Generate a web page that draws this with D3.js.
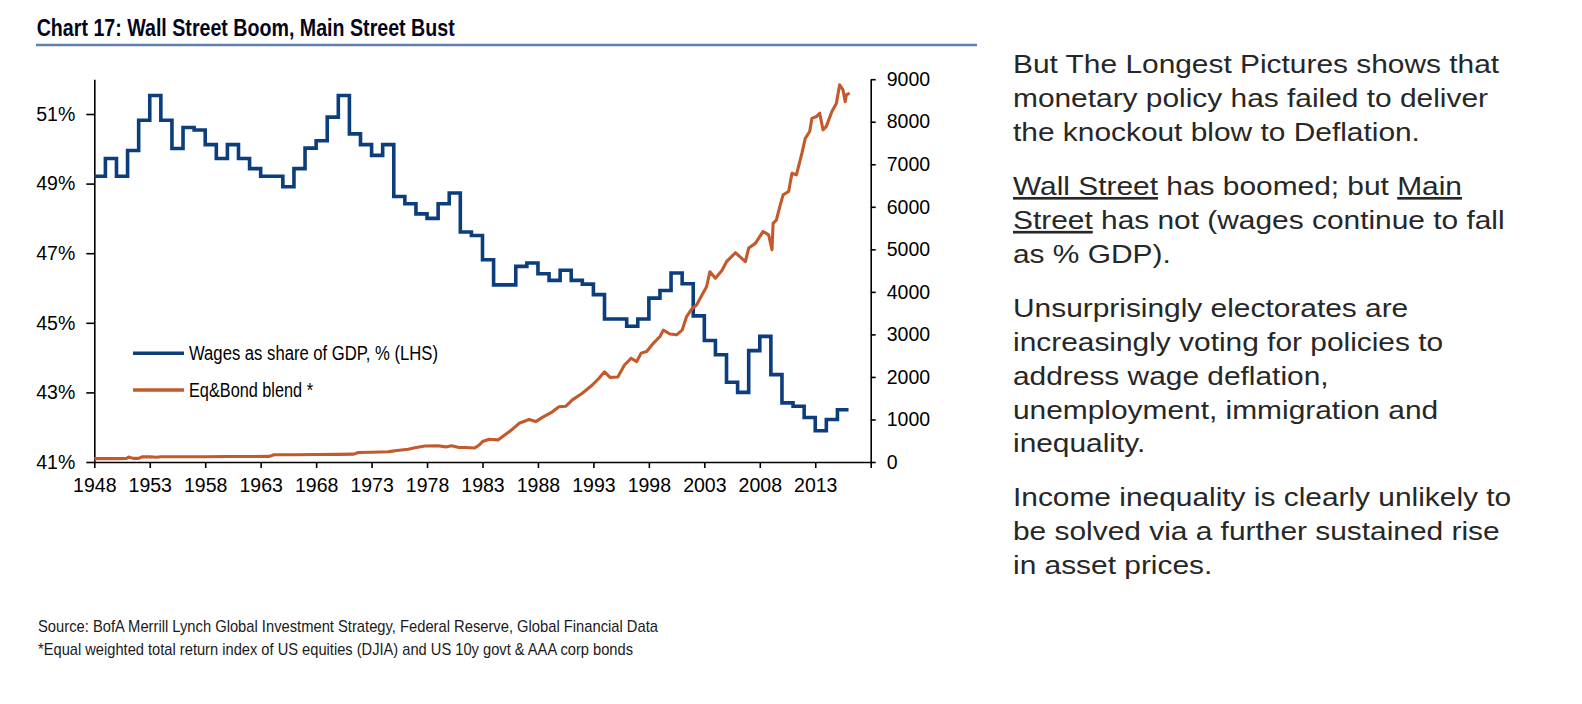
<!DOCTYPE html>
<html><head><meta charset="utf-8">
<script src="https://cdn.jsdelivr.net/npm/d3@7"></script>
<style>html,body{margin:0;padding:0;background:#fff;} svg{display:block;}</style>
</head><body>
<svg id="c" width="1582" height="704"></svg>
<script>
// ---------------- DATA ----------------
const wageYears = [1948,1949,1950,1951,1952,1953,1954,1955,1956,1957,
  1958,1959,1960,1961,1962,1963,1964,1965,1966,1967,
  1968,1969,1970,1971,1972,1973,1974,1975,1976,1977,
  1978,1979,1980,1981,1982,1983,1984,1985,1986,1987,
  1988,1989,1990,1991,1992,1993,1994,1995,1996,1997,
  1998,1999,2000,2001,2002,2003,2004,2005,2006,2007,
  2008,2009,2010,2011,2012,2013,2014,2015,2016];
const wageShare = [49.21,49.72,49.21,49.95,50.82,51.53,50.82,50.01,50.61,50.54,
  50.12,49.72,50.12,49.72,49.43,49.21,49.21,48.91,49.43,50.02,
  50.23,50.91,51.53,50.43,50.12,49.81,50.12,48.63,48.42,48.13,
  48.00,48.42,48.73,47.61,47.51,46.81,46.09,46.09,46.62,46.72,
  46.41,46.22,46.51,46.22,46.11,45.81,45.11,45.11,44.90,45.11,
  45.71,45.93,46.43,46.12,45.20,44.49,44.08,43.29,43.00,44.20,
  44.61,43.51,42.70,42.60,42.28,41.90,42.22,42.50,42.50];

const blendYears = [1948.0,1949.0,1950.0,1950.9,1951.1,1951.5,1952.0,1952.3,1953.0,1953.6,
  1954.0,1956.0,1958.0,1960.0,1962.0,1963.8,1964.2,1966.0,1968.0,1970.0,
  1971.4,1971.8,1973.0,1974.5,1974.9,1975.3,1976.3,1976.8,1977.8,1979.0,
  1979.7,1980.2,1980.8,1981.5,1982.3,1982.7,1983.0,1983.6,1984.4,1985.0,
  1985.6,1986.3,1987.2,1987.8,1988.4,1989.3,1989.9,1990.5,1991.1,1992.0,
  1992.9,1993.5,1994.0,1994.5,1995.2,1995.8,1996.4,1996.9,1997.3,1997.8,
  1998.4,1999.0,1999.3,1999.9,2000.5,2001.0,2001.4,2001.9,2002.3,2002.8,
  2003.2,2003.5,2004.0,2004.6,2005.0,2005.8,2006.2,2006.7,2007.0,2007.6,
  2008.3,2008.8,2009.1,2009.2,2009.5,2009.8,2010.1,2010.6,2010.9,2011.3,
  2011.8,2012.1,2012.5,2012.7,2013.1,2013.4,2013.7,2014.0,2014.5,2014.9,
  2015.2,2015.5,2015.7,2015.8,2016.1];
const blendValues = [80,80,80,85,115,85,85,120,125,110,
  125,125,125,128,130,132,170,172,175,180,
  185,225,230,240,255,270,300,330,375,380,
  355,380,345,340,330,400,480,535,520,635,
  750,910,1000,950,1050,1180,1300,1310,1460,1615,
  1810,1970,2120,1990,2000,2280,2440,2360,2560,2600,
  2790,2950,3100,3010,2990,3100,3420,3610,3690,3930,
  4120,4470,4320,4510,4710,4920,4830,4710,5030,5140,
  5420,5340,4990,5610,5690,6000,6280,6360,6790,6750,
  7260,7610,7770,8080,8120,8200,7810,7890,8240,8430,
  8870,8750,8470,8630,8670];

const xTicks = [1948,1953,1958,1963,1968,1973,1978,1983,1988,1993,1998,2003,2008,2013,2018];
const xTickLabels = ["1948","1953","1958","1963","1968","1973","1978","1983","1988","1993","1998","2003","2008","2013",""];
const leftTicks = [41,43,45,47,49,51];
const rightTicks = [0,1000,2000,3000,4000,5000,6000,7000,8000,9000];

const titleText = "Chart 17: Wall Street Boom, Main Street Bust";
const legendLabels = ["Wages as share of GDP, % (LHS)", "Eq&Bond blend *"];
const footnotes = ["Source: BofA Merrill Lynch Global Investment Strategy, Federal Reserve, Global Financial Data",
  "*Equal weighted total return index of US equities (DJIA) and US 10y govt & AAA corp bonds"];
const paragraphs = [
  [[["But The Longest Pictures shows that"]], [["monetary policy has failed to deliver"]], [["the knockout blow to Deflation."]]],
  [[["Wall Street",1],[" has boomed; but "],["Main",1]], [["Street",1],[" has not (wages continue to fall"]], [["as % GDP)."]]],
  [[["Unsurprisingly electorates are"]], [["increasingly voting for policies to"]], [["address wage deflation,"]], [["unemployment, immigration and"]], [["inequality."]]],
  [[["Income inequality is clearly unlikely to"]], [["be solved via a further sustained rise"]], [["in asset prices."]]]
];

// ---------------- STYLE ----------------
const BLUE = "#0c3d7c", ORANGE = "#c4592b";
const svg = d3.select("#c");
svg.append("rect").attr("width",1582).attr("height",704).attr("fill","#fff");

// detect narrow font
const probe = svg.append("text").attr("font-size",100).attr("font-family","'Liberation Sans Narrow'").text("0000000000");
const wN = probe.node().getComputedTextLength();
probe.attr("font-family","'Liberation Sans'");
const wS = probe.node().getComputedTextLength();
probe.remove();
const hasNarrow = wN / wS < 0.9;
const NARROW = hasNarrow ? "'Liberation Sans Narrow','Arial Narrow',sans-serif" : "'Liberation Sans',Arial,sans-serif";
const SX = hasNarrow ? 1 : 0.82;

function narrowText(sel, size) {
  sel.attr("font-family", NARROW).attr("font-size", size).attr("fill", "#000");
  if (SX !== 1) sel.each(function(){
    const t = d3.select(this); const x = +t.attr("x") || 0;
    t.attr("x", x / SX).attr("transform", `scale(${SX},1)`);
  });
}

// ---------------- TITLE ----------------
svg.append("text").attr("x", 36.7).attr("y", 36).attr("font-family", NARROW)
  .attr("font-weight", "bold").attr("font-size", 23.5).attr("fill", "#05051a")
  .attr("textLength", 418).attr("lengthAdjust", "spacingAndGlyphs").text(titleText);
svg.append("line").attr("x1", 36).attr("x2", 977).attr("y1", 45).attr("y2", 45)
  .attr("stroke", "#5f80ab").attr("stroke-width", 2.6);

// ---------------- SCALES ----------------
const x = d3.scaleLinear().domain([1948, 2018]).range([94.3, 870.7]);
const yL = d3.scaleLinear().domain([41, 52]).range([462, 79.2]);
const yR = d3.scaleLinear().domain([0, 9000]).range([462, 79.2]);

// ---------------- AXES ----------------
const gx = svg.append("g").attr("transform", "translate(0,462)")
  .call(d3.axisBottom(x).tickValues(xTicks).tickFormat((d,i) => xTickLabels[i])
    .tickSize(6).tickPadding(10).tickSizeOuter(0));
const gl = svg.append("g").attr("transform", `translate(${x.range()[0]},0)`)
  .call(d3.axisLeft(yL).tickValues(leftTicks).tickFormat(d => d + "%")
    .tickSize(8).tickPadding(11).tickSizeOuter(0));
const gr = svg.append("g").attr("transform", `translate(${x.range()[1]},0)`)
  .call(d3.axisRight(yR).tickValues(rightTicks).tickFormat(d3.format("d"))
    .tickSize(5).tickPadding(11).tickSizeOuter(0));
[gx, gl, gr].forEach(g => {
  g.selectAll("path, line").attr("stroke", "#000").attr("stroke-width", 1.6);
  narrowText(g.selectAll("text"), 19.5);
});

// ---------------- LINES ----------------
const wageData = wageYears.map((y, i) => ({ y, v: wageShare[i] }));
const blendData = blendYears.map((y, i) => ({ y, v: blendValues[i] }));

svg.append("path").datum(wageData)
  .attr("d", d3.line().x(d => x(d.y)).y(d => yL(d.v)).curve(d3.curveStepAfter))
  .attr("fill", "none").attr("stroke", BLUE).attr("stroke-width", 3.6)
  .attr("stroke-linejoin", "miter");
svg.append("path").datum(blendData)
  .attr("d", d3.line().x(d => x(d.y)).y(d => yR(d.v)))
  .attr("fill", "none").attr("stroke", ORANGE).attr("stroke-width", 3.1)
  .attr("stroke-linejoin", "round");

// ---------------- LEGEND ----------------
const legendItems = [
  { label: legendLabels[0], color: BLUE, y: 353.3, w: 249, sw: 3.6 },
  { label: legendLabels[1], color: ORANGE, y: 390, w: 124, sw: 3.6 }
];
legendItems.forEach(it => {
  svg.append("line").attr("x1", 133).attr("x2", 184).attr("y1", it.y).attr("y2", it.y)
    .attr("stroke", it.color).attr("stroke-width", it.sw);
  svg.append("text").attr("x", 189).attr("y", it.y + 7).attr("font-family", NARROW)
    .attr("font-size", 20).attr("fill", "#000")
    .attr("textLength", it.w).attr("lengthAdjust", "spacingAndGlyphs").text(it.label);
});

// ---------------- FOOTNOTES ----------------
const footW = [620, 595];
footnotes.forEach((f, i) => {
  svg.append("text").attr("x", 38).attr("y", 631.5 + i * 23).attr("font-family", NARROW)
    .attr("font-size", 17).attr("fill", "#1a1a1a")
    .attr("textLength", footW[i]).attr("lengthAdjust", "spacingAndGlyphs").text(f);
});

// ---------------- RIGHT TEXT ----------------
const tg = svg.append("g").attr("transform", "translate(1013,0) scale(1.128,1)");
const LH = 33.9, PGAP = 54;
let base = 73.3;
paragraphs.forEach((p, pi) => {
  p.forEach((line, li) => {
    const t = tg.append("text").attr("x", 0).attr("y", base)
      .attr("font-family", "'Liberation Sans',Arial,Helvetica,sans-serif")
      .attr("font-size", 26.5).attr("fill", "#272727").style("white-space", "pre");
    line.forEach(seg => {
      const s = t.append("tspan").text(seg[0]);
      if (seg[1]) s.style("text-decoration", "underline");
    });
    if (li < p.length - 1) base += LH;
  });
  base += PGAP;
});
</script>
</body></html>
